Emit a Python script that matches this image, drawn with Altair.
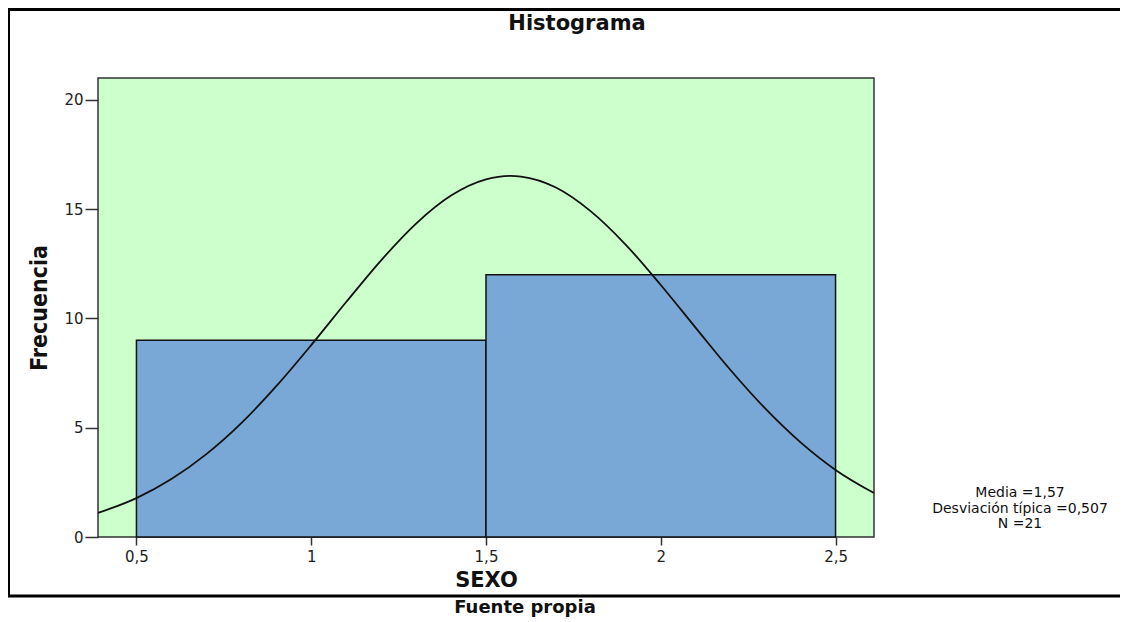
import altair as alt
import pandas as pd

# ---- data ----
bin_start = [0.5, 1.5]
bin_end = [1.5, 2.5]
counts = [9, 12]

curve_x = [0.39, 0.5, 0.6, 0.7, 0.8, 0.9, 1.0, 1.1, 1.2, 1.3, 1.4, 1.5, 1.57,
           1.6, 1.7, 1.8, 1.9, 2.0, 2.1, 2.2, 2.3, 2.4, 2.5, 2.61]
curve_y = [1.10, 1.78, 2.65, 3.79, 5.21, 6.90, 8.78, 10.75, 12.66, 14.34, 15.62, 16.36, 16.52,
           16.49, 15.99, 14.90, 13.37, 11.53, 9.57, 7.63, 5.86, 4.33, 3.07, 2.01]

x_ticks = [0.5, 1, 1.5, 2, 2.5]
y_ticks = [0, 5, 10, 15, 20]

title_text = "Histograma"
stats_text = ["Media =1,57", "Desviación típica =0,507", "N =21"]
source_text = "Fuente propia"
x_title = "SEXO"
y_title = "Frecuencia"

W, H = 776, 459

bars_df = pd.DataFrame({"start": bin_start, "end": bin_end, "count": counts})
curve_df = pd.DataFrame({"x": curve_x, "y": curve_y})

xscale = alt.Scale(domain=[0.39, 2.61], nice=False, zero=False)
yscale = alt.Scale(domain=[0, 21], nice=False)

xaxis = alt.Axis(values=x_ticks, grid=False, domain=False, tickSize=8, tickWidth=1.5,
                 tickColor="#333333", labelPadding=4,
                 labelExpr="replace(format(datum.value, '~g'), '.', ',')",
                 labelFont="DejaVu Sans", labelFontSize=15, labelColor="#222222",
                 title=x_title, titleFont="DejaVu Sans", titleFontWeight="bold",
                 titleFontSize=21, titleColor="#111111", titleX=W / 2, titleY=43,
                 titleBaseline="middle", titleAlign="center")
yaxis = alt.Axis(values=y_ticks, grid=False, domain=False, tickSize=13, tickWidth=1.5,
                 tickColor="#333333", labelPadding=2,
                 labelFont="DejaVu Sans", labelFontSize=15, labelColor="#222222",
                 title=y_title, titleFont="Liberation Sans Narrow, DejaVu Sans Condensed, sans-serif",
                 titleFontWeight="bold", titleFontSize=23, titleColor="#111111",
                 titleX=-59, titleY=H / 2, titleAngle=-90, titleBaseline="middle",
                 titleAlign="center")

one = pd.DataFrame({"k": [0]})

border = alt.Chart(one).mark_rect(fill="transparent", stroke="black", strokeWidth=3, clip=False).encode(
    x=alt.value(-89.5), x2=alt.value(1050), y=alt.value(-68.5), y2=alt.value(518)
)

bars = alt.Chart(bars_df).mark_rect(fill="#7aa8d6", stroke="#111111", strokeWidth=1.5).encode(
    x=alt.X("start:Q", scale=xscale, axis=xaxis),
    x2="end:Q",
    y=alt.Y("count:Q", scale=yscale, axis=yaxis),
    y2=alt.datum(0),
)

curve = alt.Chart(curve_df).mark_line(color="#111111", strokeWidth=1.8, interpolate="monotone").encode(
    x=alt.X("x:Q", scale=xscale),
    y=alt.Y("y:Q", scale=yscale),
)


def label(text, x, y, size, weight="normal"):
    return alt.Chart(one).mark_text(
        font="DejaVu Sans", fontWeight=weight, fontSize=size, color="#111111",
        align="center", baseline="middle", clip=False
    ).encode(x=alt.value(x), y=alt.value(y), text=alt.value(text))


title = label(title_text, 479, -54, 21, "bold")
stats = [label(t, 922, yy, 14) for t, yy in zip(stats_text, [415, 431, 446])]
source = label(source_text, 427, 530, 18, "bold")

chart = alt.layer(border, bars, curve, title, *stats, source).properties(
    width=W, height=H,
    autosize=alt.AutoSizeParams(type="none"),
    padding={"left": 90, "top": 70, "right": 246, "bottom": 84},
    background="white",
).configure_view(fill="#ccffcc", stroke="#333333", strokeWidth=1.5)

chart.save("out.html", embed_options={"renderer": "svg", "actions": False})
